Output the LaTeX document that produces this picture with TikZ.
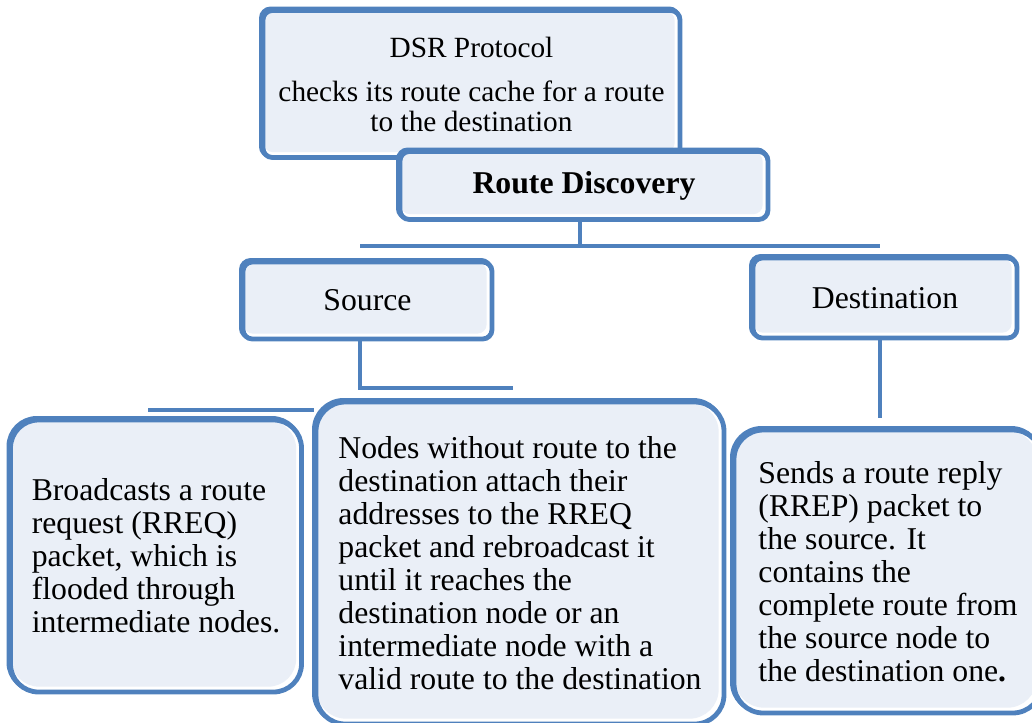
\documentclass[tikz,border=0pt]{standalone}
\usepackage{fontspec}
\setmainfont{Liberation Serif}
\definecolor{bord}{HTML}{4F81BD}
\definecolor{boxfill}{HTML}{EAEFF7}
\tikzset{
  box/.style={shape=rectangle, draw=bord, fill=white, line width=3.6pt, inner sep=0pt,
    rounded corners=#1,
    preaction={draw=bord, line width=3.6pt, transform canvas={shift={(-1.2pt,1.2pt)}}},
    path picture={\fill[boxfill, rounded corners=#1]
      ([shift={(0.5pt,-0.5pt)}]path picture bounding box.north west) rectangle
      ([shift={(-4pt,4pt)}]path picture bounding box.south east);}},
  box/.default=7pt,
  conn/.style={draw=bord, line width=3.6pt},
  main/.style={font=\rmfamily\fontsize{23.8}{24.8}\selectfont},
  small/.style={font=\rmfamily\fontsize{22}{22.5}\selectfont},
}
\begin{document}
\begin{tikzpicture}[x=0.75pt,y=-0.75pt]
\useasboundingbox (0,0) rectangle (1032,722);

% top boxes
\node[box, small, align=center, minimum width=417*0.75pt, minimum height=147*0.75pt]
  (dsr) at (471.5,84) {DSR Protocol\\[10.5pt]checks its route cache for a route\\to the destination};
\node[box, main, minimum width=368*0.75pt, minimum height=68*0.75pt]
  (rd) at (584,185.5) {\bfseries Route Discovery};

% second level
\node[box, main, minimum width=249*0.75pt, minimum height=77*0.75pt]
  (src) at (367.5,300.5) {Source};
\node[box, main, minimum width=264*0.75pt, minimum height=80*0.75pt]
  (dst) at (885,298) {Destination};

% bottom boxes
\node[box=21pt, main, align=left, minimum width=291*0.75pt, minimum height=272*0.75pt]
  (left) at (156,556) {Broadcasts a route\\request (RREQ)\\packet, which is\\flooded through\\intermediate nodes.};
\node[box=22pt, main, align=left, minimum width=408*0.75pt, minimum height=322*0.75pt]
  (mid) at (520,563) {Nodes without route to the\\destination attach their\\addresses to the RREQ\\packet and rebroadcast it\\until it reaches the\\destination node or an\\intermediate node with a\\valid route to the destination};
\node[box=22pt, main, align=left, minimum width=308*0.75pt, minimum height=283*0.75pt]
  (right) at (888,571.5) {Sends a route reply\\(RREP) packet to\\the source. It\\contains the\\complete route from\\the source node to\\the destination one\textbf{.}};

% connectors
\coordinate (hl) at (360,246);
\coordinate (hr) at (880,246);
\draw[conn] ([xshift=-3pt]rd.south) -- ([xshift=-3pt]rd.south |- hl);
\draw[conn] (hl) -- (hr);
\coordinate (sr) at (513,388);
\draw[conn] ([xshift=-5.6pt]src.south) |- (sr);
\coordinate (ll) at (148,410);
\draw[conn] (ll) -- (ll -| mid.west);
\coordinate (de) at (880,418);
\draw[conn] (dst.south -| de) -- (de);
\end{tikzpicture}
\end{document}
